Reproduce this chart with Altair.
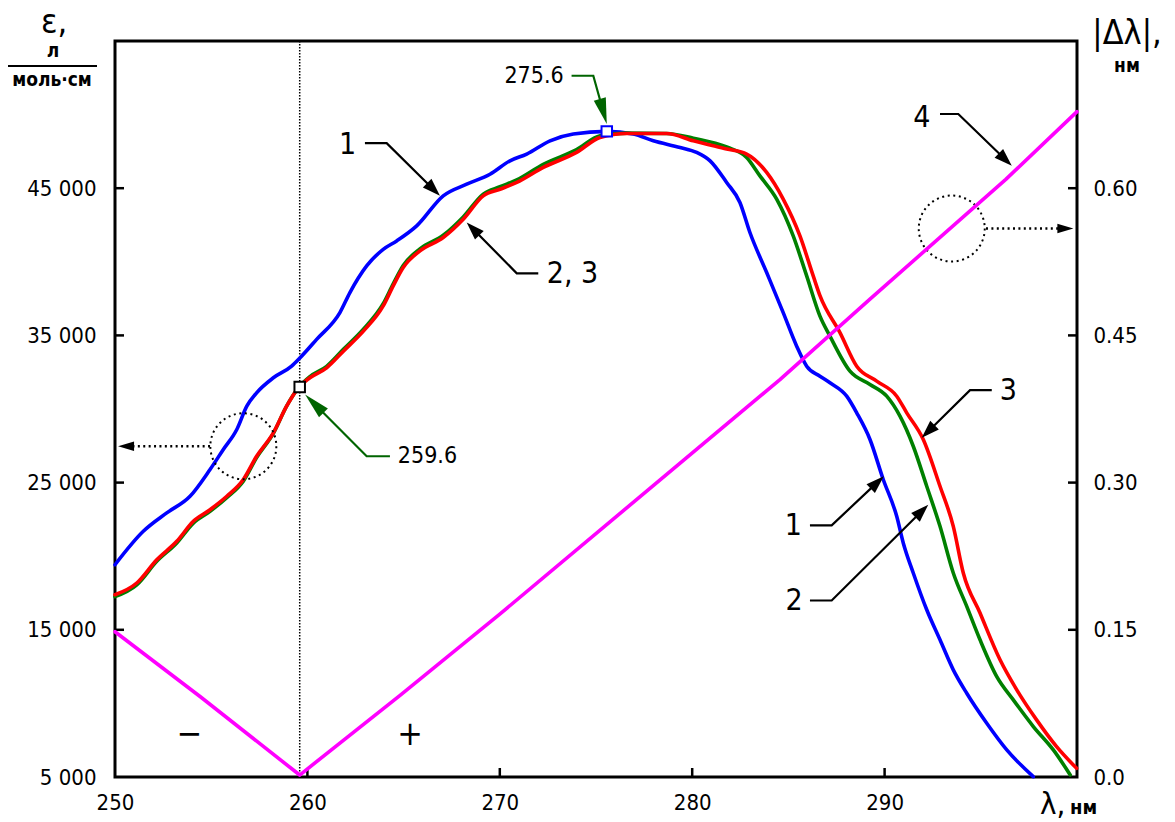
import math
import altair as alt
import pandas as pd

FONT = "DejaVu Sans Condensed, DejaVu Sans"
W, H = 962, 736

# ---------------- data ----------------
blue_lam = [250.00, 251.47, 252.69, 253.90, 254.94, 255.63, 256.33, 256.85, 257.36, 258.23,
            259.18, 259.62, 260.48, 261.69, 262.21, 263.08, 263.94, 264.64, 265.68, 267.06,
            268.28, 269.49, 270.53, 271.40, 272.61, 273.82, 275.56, 276.94, 277.98, 279.37,
            280.23, 280.93, 281.79, 282.48, 283.00, 283.87, 284.73, 285.43, 285.95, 286.64,
            287.16, 288.03, 288.55, 289.24, 289.93, 290.63, 290.97, 291.49, 292.19, 292.88,
            293.57, 294.27, 295.31, 296.35, 297.73]
blue_eps = [19420, 21690, 22940, 24070, 25890, 27250, 28610, 30190, 31100, 32120,
            32910, 33480, 34730, 36550, 37910, 39720, 40850, 41420, 42440, 44480,
            45270, 45950, 46860, 47320, 48220, 48680, 48860, 48680, 48220, 47770,
            47430, 46860, 45390, 44030, 41990, 39270, 36550, 34270, 32910, 32230,
            31780, 30870, 29740, 27930, 25210, 22710, 20900, 18860, 16360, 14320,
            12280, 10690, 8650, 6840, 5020]

green_lam = [250.00, 251.13, 252.17, 253.21, 254.07, 254.94, 255.81, 256.67, 257.36, 258.23,
             258.92, 259.53, 260.13, 261.00, 261.87, 262.91, 263.94, 264.46, 264.98, 265.85,
             267.06, 268.10, 269.14, 270.01, 270.88, 272.26, 273.99, 275.21, 276.59, 278.67,
             280.06, 281.79, 282.83, 283.52, 284.39, 285.25, 285.95, 286.64, 287.16, 288.20,
             289.24, 290.11, 290.80, 291.49, 292.19, 292.88, 293.57, 294.27, 294.96, 295.83,
             296.69, 297.73, 298.77, 299.65]
green_eps = [17250, 18050, 19650, 20900, 22250, 23050, 23980, 25100, 26700, 28350,
             30200, 31440, 32200, 32900, 34050, 35420, 37150, 38500, 39750, 40880,
             41800, 43050, 44600, 45100, 45560, 46620, 47620, 48560, 48740, 48720,
             48400, 47800, 47090, 45840, 44260, 41760, 39040, 36310, 34950, 32570,
             31670, 30870, 29510, 27470, 24750, 22030, 18860, 16590, 14320, 11820,
             10240, 8430, 6840, 5140]

red_lam = [250.00, 251.13, 252.17, 253.21, 254.07, 254.94, 255.81, 256.67, 257.36, 258.23,
           258.92, 259.53, 260.13, 261.00, 261.87, 262.91, 263.94, 264.46, 264.98, 265.85,
           267.06, 268.10, 269.14, 270.01, 270.88, 272.26, 273.99, 275.21, 276.59, 278.67,
           280.06, 281.79, 282.83, 283.87, 284.73, 285.60, 286.29, 286.64, 287.68, 288.55,
           289.59, 290.63, 291.15, 292.01, 292.88, 293.57, 294.09, 294.96, 296.00, 296.87,
           297.90, 298.94, 299.98]
red_eps = [17380, 18180, 19760, 21010, 22370, 23160, 24070, 25210, 26790, 28380,
           30190, 31440, 32120, 32800, 33930, 35290, 37000, 38360, 39610, 40740,
           41650, 42890, 44480, 44930, 45390, 46410, 47430, 48450, 48720, 48720,
           48220, 47660, 47320, 46070, 44260, 41760, 39040, 37700, 35190, 32910,
           31890, 30870, 29740, 27930, 24750, 22030, 18860, 16140, 12960, 10920,
           8880, 7060, 5590]

mag_lam = [250.00, 254.42, 259.60, 264.80, 270.00, 284.56, 289.24, 296.30, 300.00]
mag_dl = [0.148, 0.082, 0.002, 0.083, 0.166, 0.405, 0.487, 0.609, 0.678]

x_tick_values = [250, 260, 270, 280, 290]
x_tick_labels = ["250", "260", "270", "280", "290"]
eps_tick_values = [5000, 15000, 25000, 35000, 45000]
eps_tick_labels = ["5 000", "15 000", "25 000", "35 000", "45 000"]
dl_tick_values = [0.0, 0.15, 0.30, 0.45, 0.60]
dl_tick_labels = ["0.0", "0.15", "0.30", "0.45", "0.60"]

crossing_lam = [259.6]
mark_lam = [259.6, 275.56]
mark_eps = [31490, 48860]
mark_kind = ["black", "blue"]

label_text = ["275.6", "259.6", "1", "2, 3", "3", "1", "2", "4", "\u2212", "+"]
label_lam = [271.78, 266.24, 262.09, 273.78, 296.43, 285.25, 285.29, 291.94, 253.88, 265.33]
label_eps = [52620, 26790, 47930, 39150, 31210, 22080, 16930, 49760, 7860, 7860]
label_kind = ["value", "value", "num", "num", "num", "num", "num", "num", "sign", "sign"]

arrow_names = ["a275", "a259", "a1u", "a23", "a3", "a1r", "a2r", "a4", "aL", "aR"]
arrow_lams = [[273.73, 274.86, 275.56], [264.29, 263.08, 259.88], [262.99, 264.12, 266.89],
              [272.00, 270.88, 268.28], [295.57, 294.44, 291.93], [286.12, 287.25, 289.96],
              [286.12, 287.25, 292.27], [292.88, 293.83, 296.61], [254.94, 250.16],
              [295.27, 299.81]]
arrow_epss = [[52640, 52640, 49360], [26790, 26790, 30990], [48060, 48060, 44480],
              [39220, 39220, 42670], [31280, 31280, 28040], [22100, 22100, 25430],
              [16990, 16990, 23500], [50040, 50040, 46520], [27470, 27470],
              [42260, 42260]]
arrow_kind = ["green", "green", "black", "black", "black", "black", "black", "black",
              "dotted", "dotted"]

circle_lam = [256.67, 293.49]
circle_eps = [27470, 42260]

# ---------------- styles ----------------
C_BLUE, C_GREEN, C_RED, C_MAG = "#0000ff", "#008000", "#ff0000", "#ff00ff"
C_ARROW_GREEN = "#006400"
label_style = {"value": 23, "num": 30, "sign": 34}
head_style = {  # length px, half-width ratio, colour
    "green": (26, 0.24, C_ARROW_GREEN),
    "black": (18, 0.34, "black"),
    "dotted": (16, 0.30, "black"),
}

SX = W / 50.0
SY = H / 50000.0

x_scale = alt.Scale(domain=[250, 300], nice=False, zero=False)
yl_scale = alt.Scale(domain=[5000, 55000], nice=False, zero=False)
yr_scale = alt.Scale(domain=[0, 0.75], nice=False, zero=False)


def label_expr(values, labels):
    expr = "''"
    for v, l in reversed(list(zip(values, labels))):
        expr = f"(datum.value == {v}) ? '{l}' : ({expr})"
    return expr


common_axis = dict(domain=False, ticks=False, tickSize=0, grid=False, title=None,
                   labelFont=FONT, labelFontSize=22, labelColor="black")
x_axis = alt.Axis(values=x_tick_values, labelExpr=label_expr(x_tick_values, x_tick_labels),
                  labelPadding=15, labelFlush=False, orient="bottom", **common_axis)
yl_axis = alt.Axis(values=eps_tick_values, labelExpr=label_expr(eps_tick_values, eps_tick_labels),
                   labelPadding=19, orient="left", **common_axis)
yr_axis = alt.Axis(values=dl_tick_values, labelExpr=label_expr(dl_tick_values, dl_tick_labels),
                   labelPadding=16, orient="right", **common_axis)


def X(f):
    return alt.X(f"{f}:Q", scale=x_scale, axis=x_axis)


def YL(f):
    return alt.Y(f"{f}:Q", scale=yl_scale, axis=yl_axis)


def YR(f):
    return alt.Y(f"{f}:Q", scale=yr_scale, axis=yr_axis)


def curve(lam, val, color, right=False, interp="monotone"):
    df = pd.DataFrame({"lam": lam, "v": val})
    return alt.Chart(df).mark_line(color=color, strokeWidth=3.6, strokeJoin="round",
                                   strokeCap="round", interpolate=interp).encode(
        x=X("lam"), y=YR("v") if right else YL("v"))


one = pd.DataFrame({"a": [0]})

# dotted vertical line
vline = alt.Chart(pd.DataFrame({"lam": crossing_lam})).mark_rule(
    color="black", strokeWidth=1.5, strokeDash=[1.5, 1.5]).encode(x=X("lam"))

# markers
mk_df = pd.DataFrame({"lam": mark_lam, "eps": mark_eps, "kind": mark_kind})
markers = alt.Chart(mk_df).mark_point(shape="square", size=110, filled=True, fill="white",
                                      strokeWidth=2, opacity=1).encode(
    x=X("lam"), y=YL("eps"),
    stroke=alt.Stroke("kind:N", scale=alt.Scale(domain=["black", "blue"],
                                                range=["black", C_BLUE]), legend=None))

# arrows
line_rows, head_rows = [], []
for name, lams, epss, kind in zip(arrow_names, arrow_lams, arrow_epss, arrow_kind):
    L, hw, col = head_style[kind]
    (l0, e0), (l1, e1) = (lams[-2], epss[-2]), (lams[-1], epss[-1])
    dx = (l1 - l0) * SX
    dy = -(e1 - e0) * SY
    dist = math.hypot(dx, dy)
    ang = math.degrees(math.atan2(dx, -dy)) % 360
    back = 0.6 * L / dist
    base_l = l1 - (l1 - l0) * back
    base_e = e1 - (e1 - e0) * back
    pts = list(zip(lams[:-1], epss[:-1])) + [(base_l, base_e)]
    for i, (l, e) in enumerate(pts):
        line_rows.append({"name": name, "i": i, "lam": l, "eps": e, "col": col, "kind": kind})
    head_rows.append({"name": name, "lam": l1, "eps": e1, "ang": ang, "kind": kind})

line_df = pd.DataFrame(line_rows)
head_df = pd.DataFrame(head_rows)

solid_lines = alt.Chart(line_df[line_df.kind != "dotted"]).mark_line(strokeWidth=2.2).encode(
    x=X("lam"), y=YL("eps"), detail="name:N", order="i:Q",
    color=alt.Color("col:N", scale=None))
dotted_lines = alt.Chart(line_df[line_df.kind == "dotted"]).mark_line(
    strokeWidth=2.6, strokeDash=[2, 3.4], color="black").encode(
    x=X("lam"), y=YL("eps"), detail="name:N", order="i:Q")

heads = []
for kind, (L, hw, col) in head_style.items():
    sub = head_df[head_df.kind == kind]
    heads.append(alt.Chart(sub).mark_point(
        shape=f"M0,0L{-hw},1L{hw},1Z", size=(2 * L) ** 2, filled=True, color=col,
        strokeWidth=0, opacity=1).encode(
        x=X("lam"), y=YL("eps"), angle=alt.Angle("ang:Q", scale=None)))

circles = alt.Chart(pd.DataFrame({"lam": circle_lam, "eps": circle_eps})).mark_point(
    shape="circle", size=66 * 66, filled=False, color="black", strokeWidth=2,
    strokeDash=[2, 3.6], opacity=1).encode(x=X("lam"), y=YL("eps"))

lab_df = pd.DataFrame({"t": label_text, "lam": label_lam, "eps": label_eps,
                       "fs": [label_style[k] for k in label_kind]})
labels = alt.Chart(lab_df).mark_text(font=FONT, align="center", baseline="middle",
                                     color="black").encode(
    x=X("lam"), y=YL("eps"), text="t:N", size=alt.Size("fs:Q", scale=None))

# inward ticks
lt = alt.Chart(pd.DataFrame({"v": eps_tick_values[1:]})).mark_rule(
    color="black", strokeWidth=2.5).encode(y=YL("v"), x=alt.value(0), x2=alt.value(9))
bt = alt.Chart(pd.DataFrame({"v": x_tick_values[1:]})).mark_rule(
    color="black", strokeWidth=2.5).encode(x=X("v"), y=alt.value(H - 9), y2=alt.value(H))
rt = alt.Chart(pd.DataFrame({"v": dl_tick_values[1:]})).mark_rule(
    color="black", strokeWidth=2.5).encode(y=YR("v"), x=alt.value(W - 9), x2=alt.value(W))


def txt(s, x, y, size, bold=False, align="center"):
    return alt.Chart(one).mark_text(font=FONT, fontSize=size, fontWeight="bold" if bold else "normal",
                                    align=align, baseline="alphabetic", color="black").encode(
        x=alt.value(x), y=alt.value(y), text=alt.value(s))


titles = [
    txt("\u03b5,", -61, -8, 34),
    txt("\u043b", -62, 16, 19, bold=True),
    txt("\u043c\u043e\u043b\u044c\u00b7\u0441\u043c", -63, 45, 19, bold=True),
    txt("|\u0394\u03bb|,", 1012, 3, 34),
    txt("\u043d\u043c", 1012, 31, 19, bold=True),
    txt("\u03bb,", 925, 773, 31, align="left"),
    txt("\u043d\u043c", 955, 773, 20, bold=True, align="left"),
]
frac = alt.Chart(one).mark_rule(color="black", strokeWidth=2).encode(
    x=alt.value(-107), x2=alt.value(-18), y=alt.value(25))

left_group = alt.layer(
    vline,
    curve(blue_lam, blue_eps, C_BLUE),
    curve(green_lam, green_eps, C_GREEN),
    curve(red_lam, red_eps, C_RED),
    solid_lines, dotted_lines, *heads, circles, markers, labels, lt, bt, frac, *titles,
)
right_group = alt.layer(curve(mag_lam, mag_dl, C_MAG, right=True, interp="linear"), rt)

chart = alt.layer(left_group, right_group).resolve_scale(y="independent").properties(
    width=W, height=H,
    padding={"left": 115, "top": 41, "right": 98, "bottom": 45},
    autosize=alt.AutoSizeParams(type="none"),
    background="white",
).configure_view(stroke="black", strokeWidth=3)

chart.save("out.html", embed_options={"renderer": "svg", "actions": False})
